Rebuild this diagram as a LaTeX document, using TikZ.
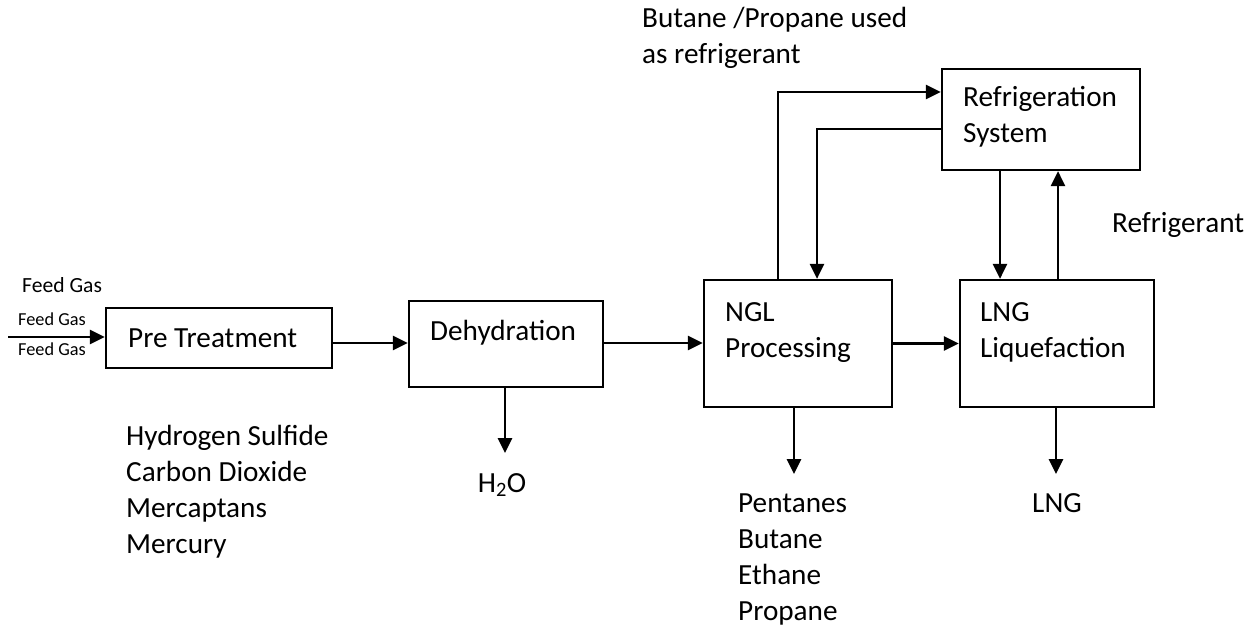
\documentclass[tikz,border=0pt]{standalone}
\usepackage{fontspec}
\setmainfont{Carlito}
\usetikzlibrary{arrows.meta}
\begin{document}
\begin{tikzpicture}[x=1pt,y=-1pt,
  box/.style={draw,line width=2.2pt,inner sep=0pt,minimum width=#1},
  lbl/.style={anchor=base west,inner sep=0pt,align=left,font=\fontsize{29.2}{36}\selectfont},
  small/.style={anchor=base west,inner sep=0pt,font=\fontsize{18.3}{22}\selectfont},
  flow/.style={line width=2.7pt,-{Triangle[length=15pt,width=14pt]}}]
\useasboundingbox (0,0) rectangle (1255,628);
% boxes
\node[box=226pt,minimum height=60pt] (pre) at (219,338) {};
\node[box=194pt,minimum height=86pt] (dehy) at (506,344) {};
\node[box=188pt,minimum height=127pt] (ngl) at (798,343.5) {};
\node[box=194pt,minimum height=127pt] (lng) at (1057,343.5) {};
\node[box=198pt,minimum height=101pt] (refr) at (1041,119.5) {};
% box texts (anchored at the baseline of the last line)
\node[lbl] (tpre) at (128,347) {Pre Treatment};
\node[lbl] (tdehy) at (430,340) {Dehydration};
\node[lbl] (tngl) at (725,357) {NGL\\Processing};
\node[lbl] (tlng) at (980,357) {LNG\\Liquefaction};
\node[lbl] (trefr) at (963,143) {Refrigeration\\System};
% other texts
\node[small,font=\fontsize{21.6}{26}\selectfont] (fg0) at (22,293) {Feed Gas};
\node[small] (fg1) at (18,325) {Feed Gas};
\node[small] (fg2) at (18,355) {Feed Gas};
\node[lbl] (bp) at (642,64) {Butane /Propane used\\as refrigerant};
\node[lbl] (rf) at (1112,233) {Refrigerant};
\node[lbl] (imp) at (126,553) {Hydrogen Sulfide\\Carbon Dioxide\\Mercaptans\\Mercury};
\node[lbl] (ngls) at (738,620) {Pentanes\\Butane\\Ethane\\Propane};
\node[lbl,anchor=base] (lngt) at (1057,512) {LNG};
\node[lbl,anchor=base] (h2o) at (502,492) {H\textsubscript{2}O};
% coordinates
\coordinate (feed) at (8,337);
\coordinate (h2oend) at (505,453);
\coordinate (nglend) at (794,474);
\coordinate (lngend) at (1056,474);
% connectors
\draw[flow] (feed) -- (feed -| pre.west);
\draw[flow] ([yshift=-5pt]pre.east) -- ([yshift=-5pt]pre.east -| dehy.west);
\draw[flow] ([yshift=1pt]dehy.east) -- ([yshift=1pt]dehy.east -| ngl.west);
\draw[flow] (ngl.east) -- (lng.west);
\draw[flow] (h2oend |- dehy.south) -- (h2oend);
\draw[flow] (nglend |- ngl.south) -- (nglend);
\draw[flow] (lngend |- lng.south) -- (lngend);
\draw[flow] ([xshift=-20pt]ngl.north) |- ([yshift=27.5pt]refr.west);
\draw[flow] ([yshift=-9.5pt]refr.west) -| ([xshift=19pt]ngl.north);
\draw[flow] ([xshift=-41pt]refr.south) -- ([xshift=-41pt]refr.south |- lng.north);
\draw[flow] ([xshift=1pt]lng.north) -- ([xshift=1pt]lng.north |- refr.south);
\end{tikzpicture}
\end{document}
